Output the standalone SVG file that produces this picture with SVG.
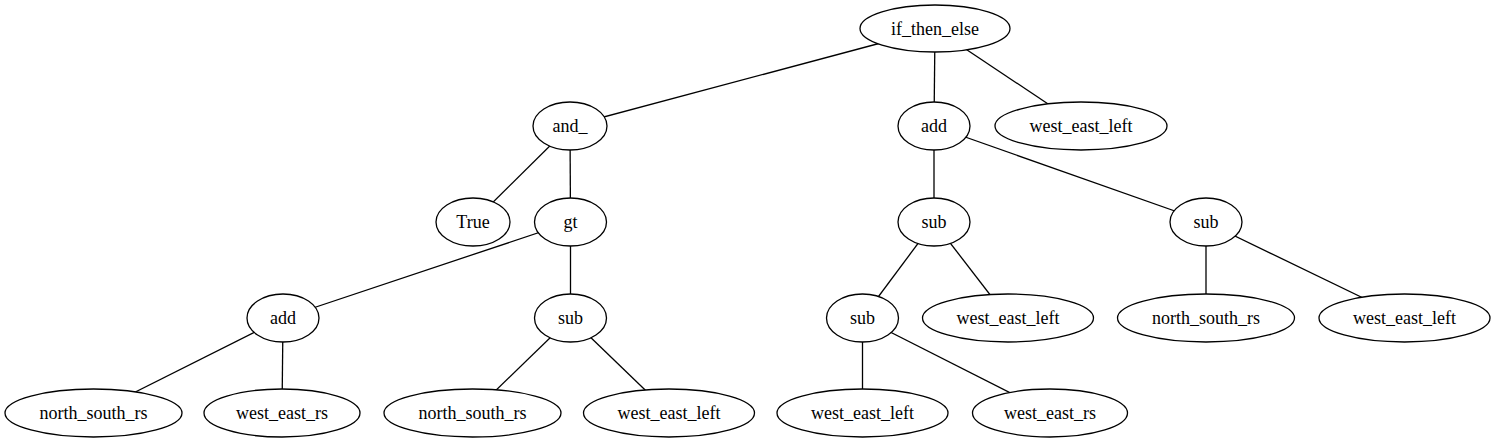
<svg xmlns="http://www.w3.org/2000/svg" width="1493" height="443" viewBox="0 0 1493 443">
<style>
.n ellipse{fill:#fff;stroke:#000;stroke-width:1.3}
.n text{font-family:'Liberation Serif','Times New Roman',serif;font-size:18px;text-anchor:middle;fill:#000}
.e line{stroke:#000;stroke-width:1.3}
</style>
<rect width="1493" height="443" fill="#fff"/>
<g id="edges" class="e">
<line x1="935" y1="28.5" x2="570" y2="126"/>
<line x1="935" y1="28.5" x2="934" y2="126"/>
<line x1="935" y1="28.5" x2="1081" y2="126"/>
<line x1="570" y1="126" x2="473" y2="222"/>
<line x1="570" y1="126" x2="570.5" y2="222"/>
<line x1="934" y1="126" x2="934" y2="222"/>
<line x1="934" y1="126" x2="1206" y2="222"/>
<line x1="570.5" y1="222" x2="283" y2="318"/>
<line x1="570.5" y1="222" x2="570.5" y2="318"/>
<line x1="934" y1="222" x2="862.5" y2="318"/>
<line x1="934" y1="222" x2="1008" y2="318"/>
<line x1="1206" y1="222" x2="1206" y2="318"/>
<line x1="1206" y1="222" x2="1404.5" y2="318"/>
<line x1="283" y1="318" x2="93.5" y2="413"/>
<line x1="283" y1="318" x2="282" y2="413"/>
<line x1="570.5" y1="318" x2="472.5" y2="413"/>
<line x1="570.5" y1="318" x2="669" y2="413"/>
<line x1="862.5" y1="318" x2="862.5" y2="413"/>
<line x1="862.5" y1="318" x2="1050" y2="413"/>
</g>
<g id="n0" class="n"><ellipse cx="935" cy="28.5" rx="75" ry="23.5"/><text x="935" y="34.5">if_then_else</text></g>
<g id="n1" class="n"><ellipse cx="570" cy="126" rx="37" ry="24"/><text x="570" y="132">and_</text></g>
<g id="n2" class="n"><ellipse cx="934" cy="126" rx="36" ry="24"/><text x="934" y="132">add</text></g>
<g id="n3" class="n"><ellipse cx="1081" cy="126" rx="86" ry="24"/><text x="1081" y="132">west_east_left</text></g>
<g id="n4" class="n"><ellipse cx="473" cy="222" rx="37" ry="24"/><text x="473" y="228">True</text></g>
<g id="n5" class="n"><ellipse cx="570.5" cy="222" rx="36" ry="24"/><text x="570.5" y="228">gt</text></g>
<g id="n6" class="n"><ellipse cx="934" cy="222" rx="36" ry="24"/><text x="934" y="228">sub</text></g>
<g id="n7" class="n"><ellipse cx="1206" cy="222" rx="36" ry="24"/><text x="1206" y="228">sub</text></g>
<g id="n8" class="n"><ellipse cx="283" cy="318" rx="36" ry="24"/><text x="283" y="324">add</text></g>
<g id="n9" class="n"><ellipse cx="570.5" cy="318" rx="36" ry="24"/><text x="570.5" y="324">sub</text></g>
<g id="n10" class="n"><ellipse cx="862.5" cy="318" rx="36" ry="24"/><text x="862.5" y="324">sub</text></g>
<g id="n11" class="n"><ellipse cx="1008" cy="318" rx="85.5" ry="24"/><text x="1008" y="324">west_east_left</text></g>
<g id="n12" class="n"><ellipse cx="1206" cy="318" rx="88.5" ry="24"/><text x="1206" y="324">north_south_rs</text></g>
<g id="n13" class="n"><ellipse cx="1404.5" cy="318" rx="85.5" ry="24"/><text x="1404.5" y="324">west_east_left</text></g>
<g id="n14" class="n"><ellipse cx="93.5" cy="413" rx="88.5" ry="24"/><text x="93.5" y="419">north_south_rs</text></g>
<g id="n15" class="n"><ellipse cx="282" cy="413" rx="78" ry="24"/><text x="282" y="419">west_east_rs</text></g>
<g id="n16" class="n"><ellipse cx="472.5" cy="413" rx="88.5" ry="24"/><text x="472.5" y="419">north_south_rs</text></g>
<g id="n17" class="n"><ellipse cx="669" cy="413" rx="85.5" ry="24"/><text x="669" y="419">west_east_left</text></g>
<g id="n18" class="n"><ellipse cx="862.5" cy="413" rx="85.5" ry="24"/><text x="862.5" y="419">west_east_left</text></g>
<g id="n19" class="n"><ellipse cx="1050" cy="413" rx="77.5" ry="24"/><text x="1050" y="419">west_east_rs</text></g>
</svg>
